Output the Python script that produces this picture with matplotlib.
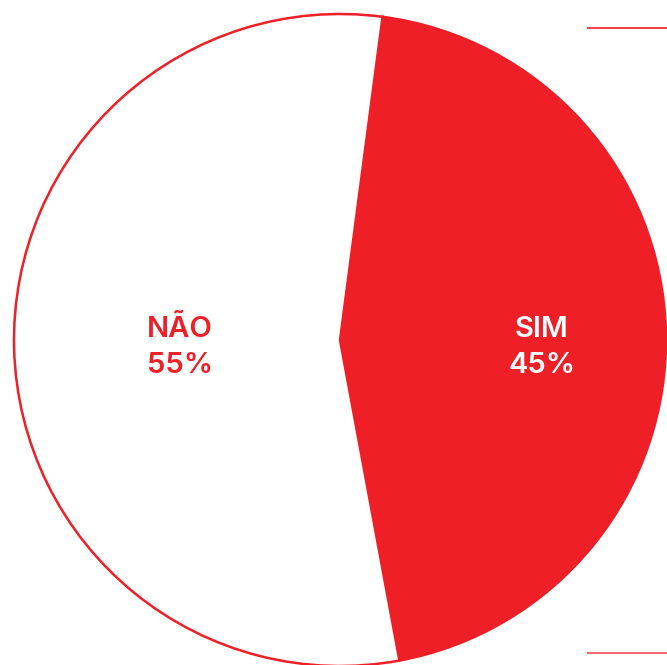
import matplotlib
matplotlib.use("Agg")
import matplotlib.pyplot as plt

labels = ["SIM", "NÃO"]
values = [45, 55]
pct_labels = ["45%", "55%"]

RED = "#EE1F26"
W, H = 667, 665
fig = plt.figure(figsize=(W / 100, H / 100), dpi=100)
ax = fig.add_axes([0, 0, 1, 1])

cx, cy, r = 340, H - 340, 326
wedges, _ = ax.pie(values, colors=[RED, "white"], startangle=82.5, counterclock=False,
                   center=(cx, cy), radius=r, frame=True,
                   wedgeprops=dict(edgecolor=RED, linewidth=1.8))
ax.set_xlim(0, W)
ax.set_ylim(0, H)
ax.set_aspect("equal")
ax.axis("off")

font = "Inter"
txt_pos = {"SIM": 542, "NÃO": 180}
txt_col = {"SIM": "white", "NÃO": RED}
for lab, pct in zip(labels, pct_labels):
    x = txt_pos[lab]
    ax.text(x, H - 337, lab, ha="center", va="baseline", fontsize=21, fontweight="semibold",
            family=font, color=txt_col[lab])
    ax.text(x, H - 373, pct, ha="center", va="baseline", fontsize=21, fontweight="semibold",
            family=font, color=txt_col[lab])

ax.plot([587, 667], [H - 28, H - 28], color=RED, lw=1.2, solid_capstyle="butt")
ax.plot([587, 667], [H - 653, H - 653], color=RED, lw=1.2, solid_capstyle="butt", alpha=0.8)

fig.savefig("out.png", dpi=100)
